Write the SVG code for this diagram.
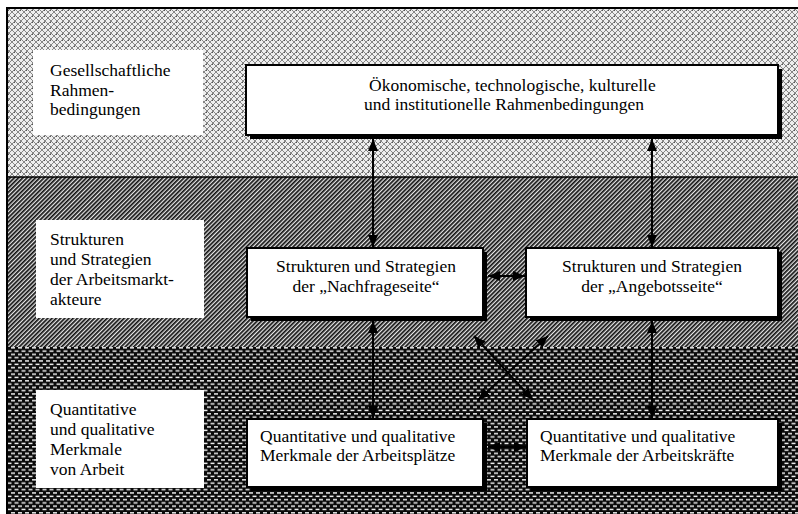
<svg xmlns="http://www.w3.org/2000/svg" width="798" height="514" viewBox="0 0 798 514">
<defs>
<pattern id="pTop" width="6" height="6" patternUnits="userSpaceOnUse">
<rect width="6" height="6" fill="#eeeeee"/>
<path d="M0,0 L6,6 M6,0 L0,6" stroke="#7a7a7a" stroke-width="0.9"/>
<rect x="2" y="4" width="1" height="1" fill="#555"/>
</pattern>
<pattern id="pMid" width="3" height="3" patternUnits="userSpaceOnUse" patternTransform="rotate(45)">
<rect width="3" height="3" fill="#e6e6e6"/>
<rect width="1.7" height="3" fill="#111"/>
</pattern>
<pattern id="pBot" width="7" height="6.6" patternUnits="userSpaceOnUse">
<rect width="7" height="6.6" fill="#0a0a0a"/>
<rect x="0.5" y="0.6" width="4" height="1.4" fill="#fff"/>
<rect x="4" y="3.9" width="4" height="1.4" fill="#fff"/>
<rect x="-3" y="3.9" width="4" height="1.4" fill="#fff"/>
</pattern>
<marker id="ah" viewBox="0 0 12 10" markerWidth="12" markerHeight="10" refX="12" refY="5" orient="auto-start-reverse" markerUnits="userSpaceOnUse">
<path d="M0,0 L12,5 L0,10 z" fill="#000"/>
</marker>
</defs>
<style>
text{font-family:'Liberation Serif','Times New Roman','DejaVu Serif',serif;font-size:17.5px;fill:#000}
.c{text-anchor:middle}
.box{fill:#fff;stroke:#000;stroke-width:2}
.sh{fill:#000}
.lab{fill:#fff}
.con{stroke:#000;stroke-width:2;fill:none;marker-start:url(#ah);marker-end:url(#ah)}
</style>
<rect width="798" height="514" fill="#fff"/>
<g id="bands">
<rect x="7" y="8" width="791" height="169" fill="url(#pTop)"/>
<rect x="7" y="177" width="791" height="170" fill="url(#pMid)"/>
<rect x="7" y="347" width="791" height="167" fill="url(#pBot)"/>
<line x1="7" y1="177" x2="798" y2="177" stroke="#000" stroke-width="1.5"/>
<rect x="7" y="8" width="800" height="520" fill="none" stroke="#000" stroke-width="2"/>
</g>
<g id="label-top" font-family="Liberation Serif, DejaVu Serif, serif">
<rect class="lab" x="33" y="50" width="170" height="85"/>
<text x="50" y="76">Gesellschaftliche</text>
<text x="50" y="95.5">Rahmen-</text>
<text x="50" y="115">bedingungen</text>
</g>
<g id="label-mid" font-family="Liberation Serif, DejaVu Serif, serif">
<rect class="lab" x="36" y="220" width="168" height="98"/>
<text x="50" y="245">Strukturen</text>
<text x="50" y="265">und Strategien</text>
<text x="50" y="285">der Arbeitsmarkt-</text>
<text x="50" y="305">akteure</text>
</g>
<g id="label-bot" font-family="Liberation Serif, DejaVu Serif, serif">
<rect class="lab" x="36" y="390" width="168" height="98"/>
<text x="50" y="415">Quantitative</text>
<text x="50" y="435">und qualitative</text>
<text x="50" y="455">Merkmale</text>
<text x="50" y="475">von Arbeit</text>
</g>
<g id="node-rahmen" font-family="Liberation Serif, DejaVu Serif, serif">
<rect class="sh" x="250" y="69" width="532" height="70"/>
<rect class="box" x="246" y="65" width="532" height="70"/>
<text x="369" y="91">Ökonomische, technologische, kulturelle</text>
<text x="364" y="110">und institutionelle Rahmenbedingungen</text>
</g>
<g id="node-nachfrage" font-family="Liberation Serif, DejaVu Serif, serif">
<rect class="sh" x="251" y="252" width="236" height="69"/>
<rect class="box" x="247" y="248" width="236" height="69"/>
<text class="c" x="366" y="272">Strukturen und Strategien</text>
<text class="c" x="366" y="292">der „Nachfrageseite“</text>
</g>
<g id="node-angebot" font-family="Liberation Serif, DejaVu Serif, serif">
<rect class="sh" x="530" y="252" width="252" height="69"/>
<rect class="box" x="526" y="248" width="252" height="69"/>
<text class="c" x="652" y="272">Strukturen und Strategien</text>
<text class="c" x="652" y="292">der „Angebotsseite“</text>
</g>
<g id="node-arbeitsplaetze" font-family="Liberation Serif, DejaVu Serif, serif">
<rect class="sh" x="251" y="423" width="236" height="68"/>
<rect class="box" x="247" y="419" width="236" height="68"/>
<text x="260" y="442">Quantitative und qualitative</text>
<text x="260" y="461">Merkmale der Arbeitsplätze</text>
</g>
<g id="node-arbeitskraefte" font-family="Liberation Serif, DejaVu Serif, serif">
<rect class="sh" x="531" y="423" width="251" height="68"/>
<rect class="box" x="527" y="419" width="251" height="68"/>
<text x="540" y="442">Quantitative und qualitative</text>
<text x="540" y="461">Merkmale der Arbeitskräfte</text>
</g>
<g id="connectors">
<line class="con" x1="373" y1="139" x2="373" y2="247"/>
<line class="con" x1="652" y1="139" x2="652" y2="247"/>
<line class="con" x1="373" y1="321" x2="373" y2="418"/>
<line class="con" x1="652" y1="321" x2="652" y2="418"/>
<line class="con" x1="488" y1="276" x2="525" y2="276"/>
<line class="con" x1="488" y1="447" x2="526" y2="447"/>
<line class="con" x1="474" y1="336" x2="533" y2="400"/>
<line class="con" x1="548" y1="336" x2="478" y2="400"/>
</g>
</svg>
